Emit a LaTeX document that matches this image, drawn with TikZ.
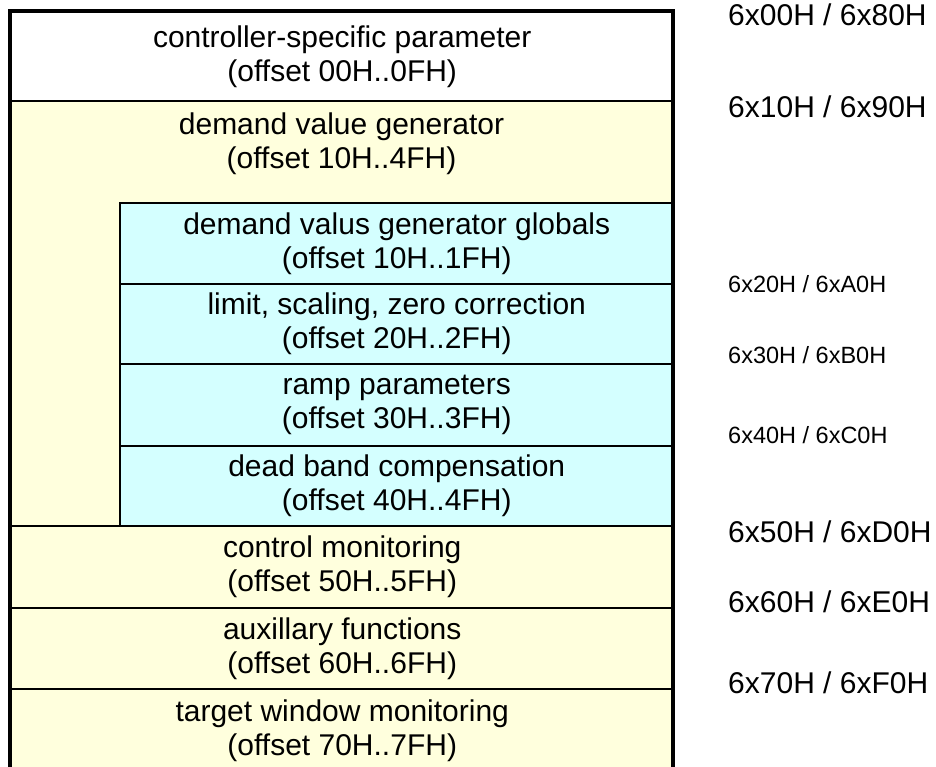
\documentclass[tikz,border=0pt]{standalone}
\usepackage{fontspec}
\setmainfont{Liberation Sans}
\definecolor{memyellow}{RGB}{255,255,221}
\definecolor{memblue}{RGB}{212,255,255}
\begin{document}
\begin{tikzpicture}[x=1pt,y=-1pt,
  cell/.style={draw=black, line width=1.5pt, anchor=north west, inner sep=0pt,
    align=center, font=\fontsize{30}{34}\selectfont, text=black, minimum width=663pt},
  ycell/.style={cell, fill=memyellow},
  bcell/.style={cell, fill=memblue, minimum width=554pt},
  label/.style={inner sep=0pt, align=center, font=\fontsize{30}{34}\selectfont},
  addr/.style={anchor=base west, inner sep=0pt, font=\fontsize{30}{34}\selectfont},
  saddr/.style={anchor=base west, inner sep=0pt, font=\fontsize{23.5}{28}\selectfont}]
\clip (0,0) rectangle (936,766);
\fill[white] (0,0) rectangle (936,766);
% cells
\node[cell, fill=white, minimum height=89pt] (cs) at (10,11)
  {controller-specific parameter\\(offset 00H..0FH)};
\node[ycell, minimum height=425pt] (dvgbox) at (10,100) {};
\node[label] (dvg) at (341.5,143.5) {demand value generator\\(offset 10H..4FH)};
\node[bcell, minimum height=81pt] (glob) at (119,202)
  {demand valus generator globals\\(offset 10H..1FH)};
\node[bcell, minimum height=80pt] (lim) at (119,283)
  {limit, scaling, zero correction\\(offset 20H..2FH)};
\node[bcell, minimum height=82pt] (ramp) at (119,363)
  {ramp parameters\\(offset 30H..3FH)};
\node[bcell, minimum height=80pt] (dead) at (119,445)
  {dead band compensation\\(offset 40H..4FH)};
\node[ycell, minimum height=82pt] (cm) at (10,525)
  {control monitoring\\(offset 50H..5FH)};
\node[ycell, minimum height=81pt] (aux) at (10,607)
  {auxillary functions\\(offset 60H..6FH)};
\node[ycell, minimum height=83pt] (tw) at (10,688)
  {target window monitoring\\(offset 70H..7FH)};
% outer frame
\draw[line width=4pt] (10,11) rectangle (673,771);
% addresses
\node[addr] (a0) at (728,25) {6x00H / 6x80H};
\node[addr] (a1) at (728,117) {6x10H / 6x90H};
\node[saddr] (a2) at (728,292) {6x20H / 6xA0H};
\node[saddr] (a3) at (728,363) {6x30H / 6xB0H};
\node[saddr] (a4) at (728,443) {6x40H / 6xC0H};
\node[addr] (a5) at (728,542) {6x50H / 6xD0H};
\node[addr] (a6) at (728,612) {6x60H / 6xE0H};
\node[addr] (a7) at (728,693) {6x70H / 6xF0H};
\end{tikzpicture}
\end{document}
